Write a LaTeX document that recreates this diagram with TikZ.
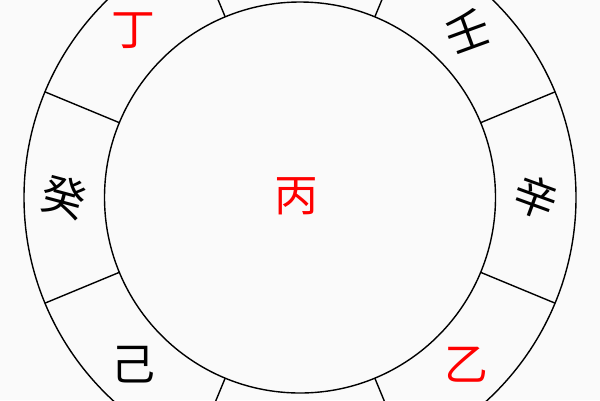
\documentclass[tikz,border=0pt]{standalone}
\usepackage{fontspec}
\newfontfamily\cjk{Noto Sans CJK SC}
\usetikzlibrary{calc}
\tikzset{gan/.style={font=\cjk\fontsize{44}{44}\selectfont,inner sep=0pt},
ring/.style={line width=1.4bp}}

\begin{document}
\begin{tikzpicture}[x=1bp,y=1bp]
\fill[black!2] (0,0) rectangle (600,-400);
\useasboundingbox (0,0) rectangle (600,-400);
\clip (0,0) rectangle (600,-400);
\coordinate (c) at (300,-197.5);
\def\ri{195.5}
\def\ro{276}
\draw[ring] (c) circle (\ro);
\draw[ring] (c) circle (\ri);
\foreach \a in {22.5,67.5,...,337.5} {
\draw[ring] ($(c)+(\a:\ri)$)--($(c)+(\a:\ro)$);
}
\node[gan,red] (bing) at ($(c)+(-4,1)$) {丙};
\foreach \a/\g/\col/\r in {0/辛/black/-20,45/壬/black/20,135/丁/red/0,180/癸/black/-15,225/己/black/0,315/乙/red/0} {
\node[gan,text=\col,rotate=\r] (gan\a) at ($(c)+(\a:236)$) {\g};
}
\end{tikzpicture}
\end{document}
